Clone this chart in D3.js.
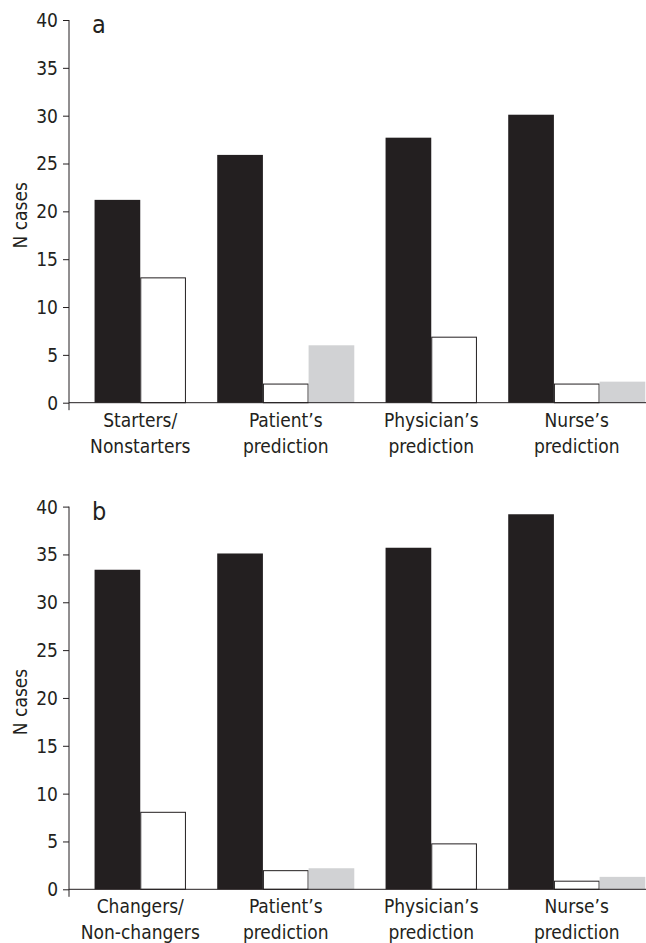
<!DOCTYPE html>
<html>
<head>
<meta charset="utf-8">
<script src="https://cdn.jsdelivr.net/npm/d3@7"></script>
<style>
  body { margin: 0; background: #fff; }
  svg { display: block; }
  text { font-family: "DejaVu Sans Condensed", "Liberation Sans Narrow", sans-serif; fill: #231f20; }
</style>
</head>
<body>
<svg id="chart" width="646" height="943"></svg>
<script>
// categories for the two panels (line break marks the wrapped label)
const categoriesA = ['Starters/\nNonstarters', 'Patient\u2019s\nprediction', 'Physician\u2019s\nprediction', 'Nurse\u2019s\nprediction'];
const categoriesB = ['Changers/\nNon-changers', 'Patient\u2019s\nprediction', 'Physician\u2019s\nprediction', 'Nurse\u2019s\nprediction'];

// series: solid, open, grey (null = no bar in that group)
const seriesKeys = ['solid', 'open', 'grey'];
const solidA = [21.2, 25.9, 27.7, 30.1];
const openA = [13.1, 2.0, 6.9, 2.0];
const greyA = [null, 6.0, null, 2.2];
const solidB = [33.4, 35.1, 35.7, 39.2];
const openB = [8.1, 2.0, 4.8, 0.9];
const greyB = [null, 2.2, null, 1.3];

const yTicks = [0, 5, 10, 15, 20, 25, 30, 35, 40];

const ink = '#231f20';
const fills = { solid: ink, open: '#fff', grey: '#d1d2d4' };

const svg = d3.select('#chart');
const width = 646;
const axisX = 69;
const plotHeight = 382.7;

const x = d3.scaleBand()
  .domain(d3.range(4))
  .range([67.5, 649.5])
  .padding(0);
const barWidth = x.step() * 0.314;

const y = d3.scaleLinear()
  .domain([0, 40])
  .range([plotHeight, 0]);

function drawPanel(top, letter, categories, solid, open, grey) {
  const g = svg.append('g').attr('transform', `translate(0, ${top})`);

  const rows = categories.map((c, i) => ({
    i,
    values: seriesKeys
      .map((key, k) => ({ key, v: [solid, open, grey][k][i] }))
      .filter(d => d.v != null)
  }));

  // bars in a group are centred on the category band
  const groups = g.selectAll('.group')
    .data(rows)
    .join('g')
    .attr('class', 'group')
    .attr('transform', d => {
      const center = x(d.i) + x.bandwidth() / 2;
      return `translate(${center - d.values.length * barWidth / 2}, 0)`;
    });

  groups.selectAll('rect')
    .data(d => d.values)
    .join('rect')
    .attr('x', (d, j) => j * barWidth + (d.key === 'open' ? 0.5 : 0))
    .attr('y', d => y(d.v) + (d.key === 'open' ? 0.5 : 0))
    .attr('width', d => barWidth - (d.key === 'open' ? 1 : 0))
    .attr('height', d => y(0) - y(d.v) - (d.key === 'open' ? 0.5 : 0))
    .attr('fill', d => fills[d.key])
    .attr('stroke', d => d.key === 'open' ? ink : 'none')
    .attr('stroke-width', 1);

  // y axis
  const yAxis = g.append('g')
    .attr('transform', `translate(${axisX}, 0)`)
    .call(d3.axisLeft(y).tickValues(yTicks).tickSize(6).tickSizeOuter(0).tickPadding(5));
  yAxis.select('.domain').remove();
  yAxis.selectAll('.tick line').attr('stroke', ink);
  yAxis.selectAll('.tick text').attr('font-size', 19).attr('dy', '0.34em');
  yAxis.append('line')
    .attr('x1', 0).attr('x2', 0)
    .attr('y1', y(40)).attr('y2', y(0) + 7.5)
    .attr('stroke', ink);

  // x axis baseline
  g.append('line')
    .attr('x1', axisX).attr('x2', width)
    .attr('y1', y(0)).attr('y2', y(0))
    .attr('stroke', ink);

  // category labels, two lines each
  const labels = g.selectAll('.xlabel')
    .data(categories)
    .join('text')
    .attr('class', 'xlabel')
    .attr('text-anchor', 'middle')
    .attr('font-size', 19)
    .attr('transform', (d, i) => `translate(${x(i) + x.bandwidth() / 2}, ${y(0) + 24})`);
  labels.selectAll('tspan')
    .data(d => d.split('\n'))
    .join('tspan')
    .attr('x', 0)
    .attr('dy', (d, j) => j === 0 ? 0 : 26)
    .text(d => d);

  // y title
  g.append('text')
    .attr('transform', `translate(27, ${plotHeight / 2 + 4}) rotate(-90)`)
    .attr('text-anchor', 'middle')
    .attr('font-size', 19)
    .text('N cases');

  // panel letter
  g.append('text')
    .attr('x', 92)
    .attr('y', y(40) + 13)
    .attr('font-size', 25)
    .text(letter);
}

drawPanel(20, 'a', categoriesA, solidA, openA, greyA);
drawPanel(506.6, 'b', categoriesB, solidB, openB, greyB);
</script>
</body>
</html>
